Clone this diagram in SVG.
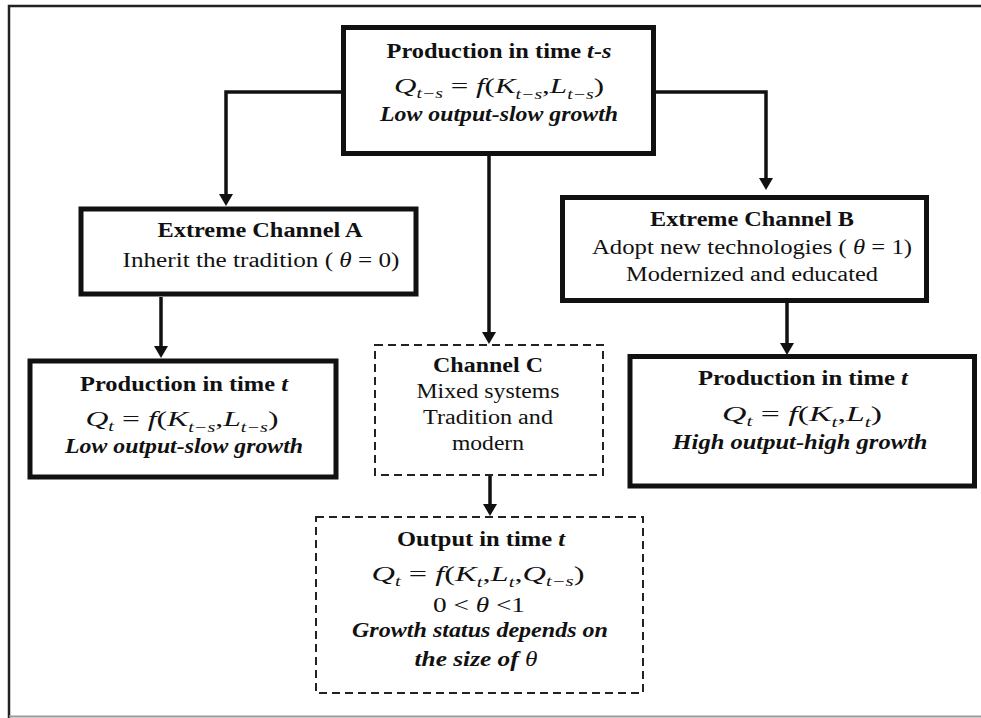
<svg xmlns="http://www.w3.org/2000/svg" width="981" height="718" viewBox="0 0 981 718">
<defs>
<style>
text{font-family:"Liberation Serif","Times New Roman",serif;fill:#111;text-anchor:middle}
.b{font-size:20px;font-weight:bold}
.bi{font-size:20px;font-weight:bold;font-style:italic}
.r{font-size:20px}
.m{font-size:22px}
.i{font-style:italic}
.s{font-size:14px;font-style:italic}
.box{fill:#fff;stroke:#111;stroke-width:5}
.dash{fill:#fff;stroke:#222;stroke-width:2;stroke-dasharray:8 5}
.con{fill:none;stroke:#111;stroke-width:3.5;marker-end:url(#ah)}
</style>
<marker id="ah" markerUnits="userSpaceOnUse" viewBox="0 0 12 14" markerWidth="12" markerHeight="14" refX="0" refY="7" orient="auto">
<path d="M0,0 L12,7 L0,14 Z" fill="#111"/>
</marker>
</defs>
<rect width="981" height="718" fill="#fff"/>
<path d="M9,718 V6 H981" fill="none" stroke="#222" stroke-width="2.5"/>
<line x1="9" y1="716.5" x2="981" y2="716.5" stroke="#999" stroke-width="2"/>

<g id="connectors">
<path class="con" d="M342,92 H226 V194"/>
<path class="con" d="M656,92 H766 V178"/>
<path class="con" d="M489,156 V332"/>
<path class="con" d="M161,297 V346"/>
<path class="con" d="M787,303 V343"/>
<path class="con" d="M490,475 V504"/>
</g>

<g id="top">
<rect class="box" x="343.5" y="27.5" width="310" height="126"/>
<text class="b" x="499" y="58" textLength="225" lengthAdjust="spacingAndGlyphs">Production in time <tspan class="i">t-s</tspan></text>
<text class="m" x="499" y="93" textLength="210" lengthAdjust="spacingAndGlyphs"><tspan class="i">Q</tspan><tspan class="s" dy="5">t−s</tspan><tspan dy="-5"> = </tspan><tspan class="i">f</tspan>(<tspan class="i">K</tspan><tspan class="s" dy="6">t−s</tspan><tspan dy="-6">,</tspan><tspan class="i">L</tspan><tspan class="s" dy="6">t−s</tspan><tspan dy="-6">)</tspan></text>
<text class="bi" x="499" y="121" textLength="238" lengthAdjust="spacingAndGlyphs">Low output-slow growth</text>
</g>

<g id="channelA">
<rect class="box" x="81" y="209" width="335" height="85"/>
<text class="b" x="260" y="237" textLength="205" lengthAdjust="spacingAndGlyphs">Extreme Channel A</text>
<text class="r" x="261" y="267" textLength="277" lengthAdjust="spacingAndGlyphs">Inherit the tradition ( <tspan class="i">θ</tspan> = 0)</text>
</g>

<g id="channelB">
<rect class="box" x="562.5" y="197.5" width="364" height="103"/>
<text class="b" x="752" y="226" textLength="204" lengthAdjust="spacingAndGlyphs">Extreme Channel B</text>
<text class="r" x="752" y="254" textLength="320" lengthAdjust="spacingAndGlyphs">Adopt new technologies ( <tspan class="i">θ</tspan> = 1)</text>
<text class="r" x="752" y="281" textLength="252" lengthAdjust="spacingAndGlyphs">Modernized and educated</text>
</g>

<g id="prodA">
<rect class="box" x="30" y="361" width="306" height="116"/>
<text class="b" x="184" y="391" textLength="208" lengthAdjust="spacingAndGlyphs">Production in time <tspan class="i">t</tspan></text>
<text class="m" x="182" y="426" textLength="193" lengthAdjust="spacingAndGlyphs"><tspan class="i">Q</tspan><tspan class="s" dy="5">t</tspan><tspan dy="-5"> = </tspan><tspan class="i">f</tspan>(<tspan class="i">K</tspan><tspan class="s" dy="6">t−s</tspan><tspan dy="-6">,</tspan><tspan class="i">L</tspan><tspan class="s" dy="6">t−s</tspan><tspan dy="-6">)</tspan></text>
<text class="bi" x="184" y="453" textLength="238" lengthAdjust="spacingAndGlyphs">Low output-slow growth</text>
</g>

<g id="channelC">
<rect class="dash" x="375" y="345" width="228" height="130"/>
<text class="b" x="488" y="372" textLength="110" lengthAdjust="spacingAndGlyphs">Channel C</text>
<text class="r" x="488" y="398" textLength="143" lengthAdjust="spacingAndGlyphs">Mixed systems</text>
<text class="r" x="488" y="424" textLength="130" lengthAdjust="spacingAndGlyphs">Tradition and</text>
<text class="r" x="488" y="450" textLength="72" lengthAdjust="spacingAndGlyphs">modern</text>
</g>

<g id="prodB">
<rect class="box" x="630" y="356.5" width="344.5" height="129.5"/>
<text class="b" x="803" y="385" textLength="210" lengthAdjust="spacingAndGlyphs">Production in time <tspan class="i">t</tspan></text>
<text class="m" x="802" y="421" textLength="160" lengthAdjust="spacingAndGlyphs"><tspan class="i">Q</tspan><tspan class="s" dy="5">t</tspan><tspan dy="-5"> = </tspan><tspan class="i">f</tspan>(<tspan class="i">K</tspan><tspan class="s" dy="6">t</tspan><tspan dy="-6">,</tspan><tspan class="i">L</tspan><tspan class="s" dy="6">t</tspan><tspan dy="-6">)</tspan></text>
<text class="bi" x="800" y="449" textLength="255" lengthAdjust="spacingAndGlyphs">High output-high growth</text>
</g>

<g id="outputC">
<rect class="dash" x="316" y="517" width="327" height="176"/>
<text class="b" x="481" y="546" textLength="168" lengthAdjust="spacingAndGlyphs">Output in time <tspan class="i">t</tspan></text>
<text class="m" x="478" y="581" textLength="213" lengthAdjust="spacingAndGlyphs"><tspan class="i">Q</tspan><tspan class="s" dy="5">t</tspan><tspan dy="-5"> = </tspan><tspan class="i">f</tspan>(<tspan class="i">K</tspan><tspan class="s" dy="6">t</tspan><tspan dy="-6">,</tspan><tspan class="i">L</tspan><tspan class="s" dy="6">t</tspan><tspan dy="-6">,</tspan><tspan class="i">Q</tspan><tspan class="s" dy="5">t−s</tspan><tspan dy="-5">)</tspan></text>
<text class="r" x="479" y="612" textLength="92" lengthAdjust="spacingAndGlyphs">0 &lt; <tspan class="i">θ</tspan> &lt;1</text>
<text class="bi" x="480" y="637" textLength="256" lengthAdjust="spacingAndGlyphs">Growth status depends on</text>
<text class="bi" x="476" y="666" textLength="123" lengthAdjust="spacingAndGlyphs">the size of <tspan font-weight="normal">θ</tspan></text>
</g>
</svg>
